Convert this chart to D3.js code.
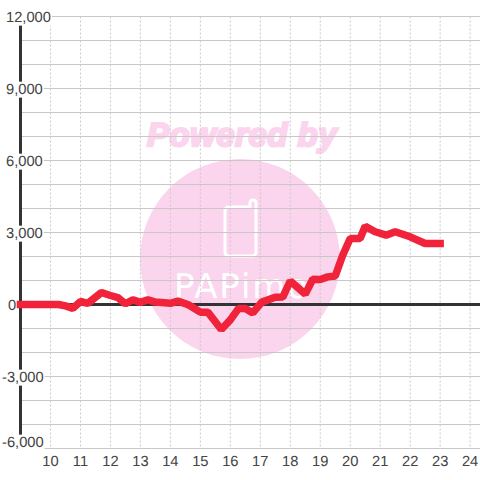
<!DOCTYPE html>
<html><head><meta charset="utf-8">
<script src="https://cdnjs.cloudflare.com/ajax/libs/d3/7.8.5/d3.min.js"></script>
<style>html,body{margin:0;padding:0;background:#fff}svg{display:block}text{text-rendering:geometricPrecision}</style>
</head><body><svg id="c" width="480" height="480"></svg>
<script>
const hours=[9,10,10.27,10.5,10.75,11,11.25,11.7,12,12.25,12.5,12.75,13,13.25,13.5,14,14.25,14.6,15,15.25,15.7,16,16.27,16.5,16.75,17.05,17.5,17.75,18,18.5,18.75,19,19.25,19.5,19.75,20,20.33,20.5,20.83,21.2,21.5,22,22.5,23];
const values=[0,0,0,-60,-160,125,50,500,375,290,30,200,90,200,100,50,140,-10,-320,-320,-1040,-640,-170,-170,-350,100,300,310,980,430,1050,1040,1150,1190,2050,2750,2750,3260,3030,2890,3030,2820,2540,2540];
const xTicks=[10,11,12,13,14,15,16,17,18,19,20,21,22,23,24];
const yGrid=[-6000,-5000,-4000,-3000,-2000,-1000,0,1000,2000,3000,4000,5000,6000,7000,8000,9000,10000,11000,12000];
const yLabels=[-6000,-3000,0,3000,6000,9000,12000];
const watermarkTop="Powered by", watermarkLogo="PAPimo";

const svg=d3.select("#c");
const x=d3.scaleLinear().domain([9,24.33]).range([20.5,480]);
const y=d3.scaleLinear().domain([-6000,12000]).range([448.5,16.5]);
const font="'Liberation Sans',Arial,sans-serif";

// watermark
const wm=svg.append("g");
wm.append("circle").attr("cx",240).attr("cy",259).attr("r",100).attr("fill","#fbd5ee");
wm.append("text").attr("x",242).attr("y",146).attr("text-anchor","middle")
  .attr("font-family",font).attr("font-weight","bold").attr("font-style","italic")
  .attr("font-size",33).attr("letter-spacing",0.5).attr("fill","#fbd5ee").attr("stroke","#fbd5ee").attr("stroke-width",2.4).text(watermarkTop);
wm.append("path").attr("fill","none").attr("stroke","#fff").attr("stroke-width",3).attr("stroke-linejoin","round")
  .attr("d","M229 207 H250 V203 Q250 200 253 200 Q256 200 256 203 V252 Q256 256 252 256 H229 Q225 256 225 252 V211 Q225 207 229 207 Z");
wm.append("text").attr("x",174).attr("y",298).attr("font-family","'DejaVu Sans',sans-serif")
  .attr("font-size",34).attr("textLength",134).attr("lengthAdjust","spacing").attr("fill","#fff").text(watermarkLogo);

// grid
const gy=svg.append("g").attr("transform","translate(20.5,0)")
  .call(d3.axisRight(y).offset(0).tickValues(yGrid).tickSize(460).tickFormat(""));
gy.select(".domain").remove();
gy.selectAll("line").attr("stroke","#c8c8c8").attr("stroke-width",1);
const gx=svg.append("g").attr("transform","translate(0,16.5)")
  .call(d3.axisBottom(x).offset(0).tickValues(xTicks).tickSize(432).tickFormat(""));
gx.select(".domain").remove();
gx.selectAll("line").attr("stroke","#c8c8c8").attr("stroke-width",1).attr("stroke-dasharray","2,2");

// axes lines
svg.append("line").attr("x1",x(9)).attr("x2",x(9)).attr("y1",y(12000)).attr("y2",y(-6000)).attr("stroke","#333").attr("stroke-width",3);
svg.append("line").attr("x1",x(9)).attr("x2",480).attr("y1",y(0)).attr("y2",y(0)).attr("stroke","#333").attr("stroke-width",3);

// y labels with white plates
const fmt=d=>d3.format(",")(d).replace("\u2212","-");
const yl=svg.append("g").selectAll("g").data(yLabels).join("g");
yl.append("text").attr("font-family",font).attr("font-size",14.7).attr("fill","#444")
  .attr("x",d=>d<0?2:(d===0?8:6))
  .attr("y",d=>d===-6000?441.5:y(d))
  .attr("dy","0.35em").text(d=>fmt(d));
yl.each(function(){
  const t=d3.select(this).select("text");const b=t.node().getBBox();
  d3.select(this).insert("rect","text").attr("x",b.x-1).attr("y",b.y).attr("width",b.width+2).attr("height",b.height).attr("fill","#fff");
});

// x labels
const xa=svg.append("g").attr("transform","translate(0,449.5)")
  .call(d3.axisBottom(x).offset(0).tickValues(xTicks).tickSize(0).tickPadding(6).tickFormat(d3.format("d")));
xa.select(".domain").remove();
xa.selectAll("text").attr("font-family",font).attr("font-size",14.7).attr("fill","#444");

// series
const line=d3.line().x((d,i)=>x(hours[i])).y(d=>y(d));
svg.append("path").attr("d",line(values)).attr("fill","none").attr("stroke","#f0233a").attr("stroke-width",7.5).attr("stroke-linejoin","bevel").attr("stroke-linecap","square");
</script></body></html>
